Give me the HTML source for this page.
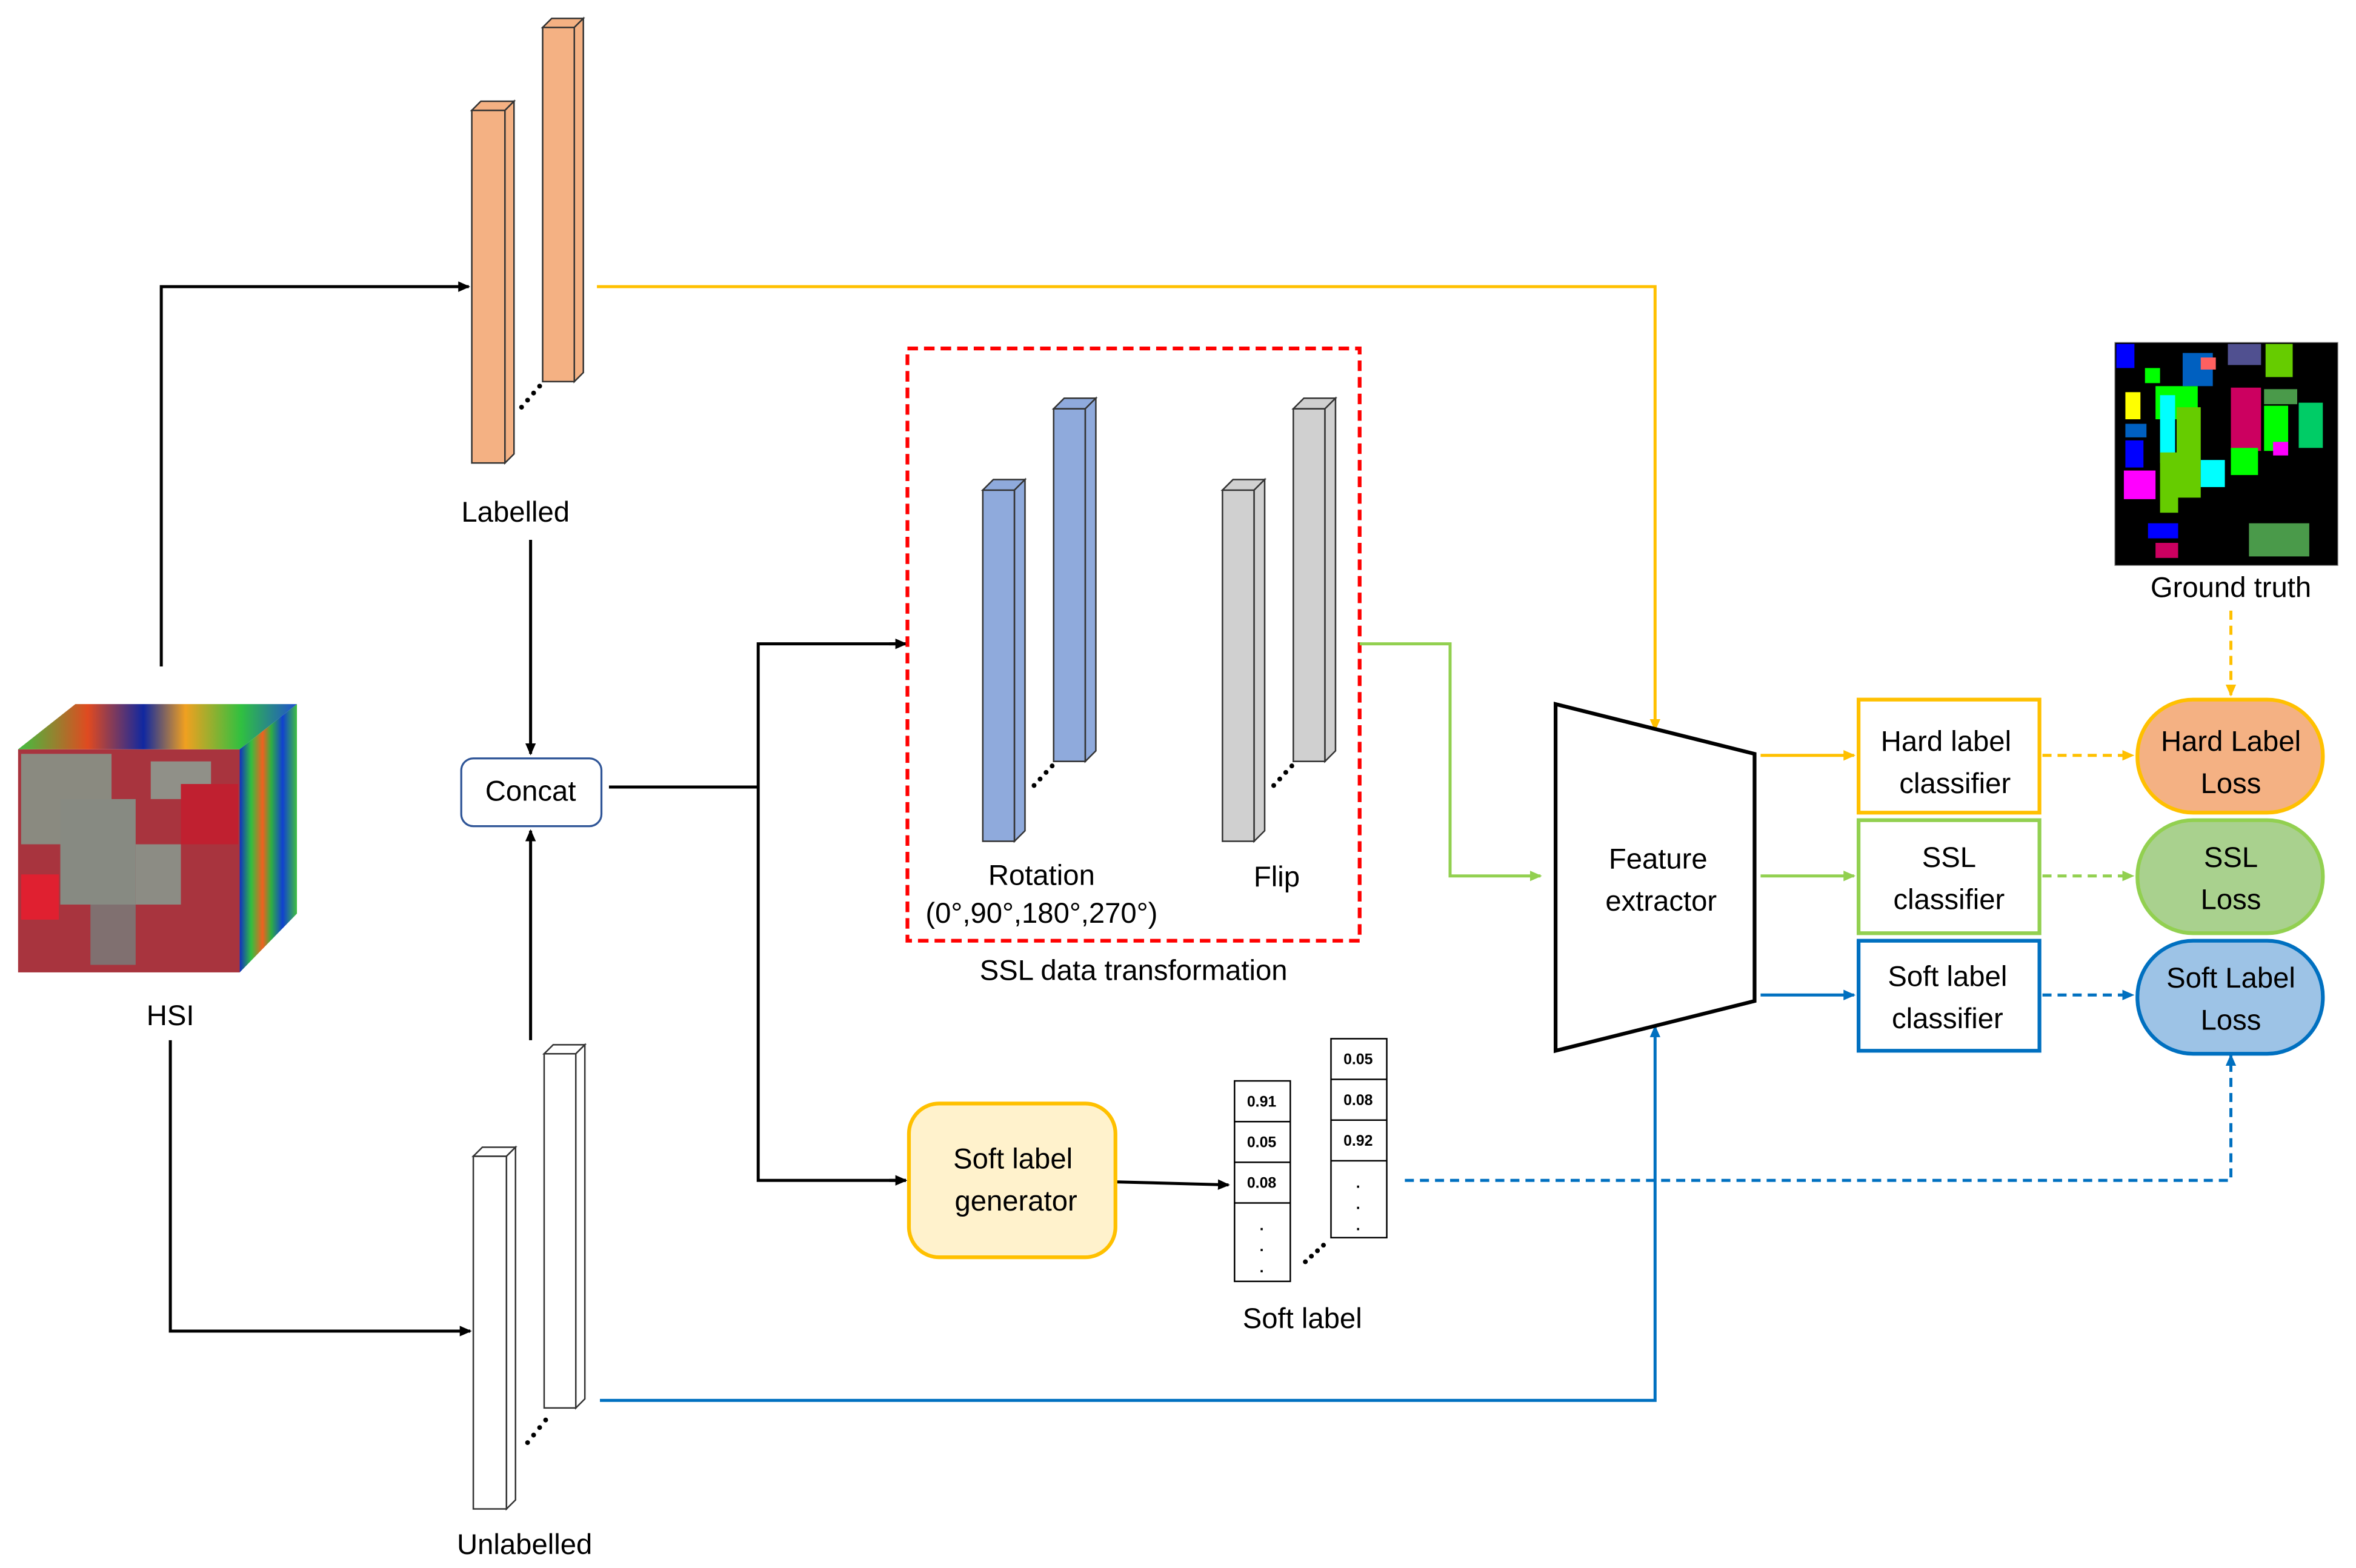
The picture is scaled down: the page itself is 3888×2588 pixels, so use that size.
<!DOCTYPE html>
<html><head><meta charset="utf-8"><style>
html,body{margin:0;padding:0;background:#fff;}
svg{display:block;}
text{font-family:"Liberation Sans",sans-serif;fill:#000;}
</style></head><body>
<svg width="3888" height="2588" viewBox="0 0 1563 1040" xmlns="http://www.w3.org/2000/svg">
<defs>
<marker id="ak" markerWidth="8" markerHeight="8" refX="7" refY="4" orient="auto" markerUnits="userSpaceOnUse"><path d="M0,0.5 L8,4 L0,7.5Z" fill="#000"/></marker>
<marker id="ao" markerWidth="8" markerHeight="8" refX="7" refY="4" orient="auto" markerUnits="userSpaceOnUse"><path d="M0,0.5 L8,4 L0,7.5Z" fill="#FFC000"/></marker>
<marker id="ag" markerWidth="8" markerHeight="8" refX="7" refY="4" orient="auto" markerUnits="userSpaceOnUse"><path d="M0,0.5 L8,4 L0,7.5Z" fill="#92D050"/></marker>
<marker id="ab" markerWidth="8" markerHeight="8" refX="7" refY="4" orient="auto" markerUnits="userSpaceOnUse"><path d="M0,0.5 L8,4 L0,7.5Z" fill="#0070C0"/></marker>
<linearGradient id="rf" x1="0" y1="0" x2="1" y2="0">
<stop offset="0" stop-color="#1030c0"/><stop offset="0.2" stop-color="#30c040"/><stop offset="0.4" stop-color="#f06020"/><stop offset="0.55" stop-color="#30b040"/><stop offset="0.75" stop-color="#1040d0"/><stop offset="1" stop-color="#40c040"/></linearGradient>
<linearGradient id="tf" x1="0" y1="0" x2="1" y2="0">
<stop offset="0" stop-color="#40c040"/><stop offset="0.25" stop-color="#e04a20"/><stop offset="0.45" stop-color="#1028a0"/><stop offset="0.6" stop-color="#f0a020"/><stop offset="0.8" stop-color="#30c040"/><stop offset="1" stop-color="#2050d0"/></linearGradient>
</defs>

<!-- HSI cube -->
<rect x="12" y="497" width="147" height="148" fill="#a8343e"/>
<rect x="14" y="500" width="60" height="60" fill="#8a8a80"/>
<rect x="40" y="530" width="50" height="70" fill="#878a82"/>
<rect x="90" y="560" width="30" height="40" fill="#8c8c84"/>
<rect x="100" y="505" width="40" height="25" fill="#909088"/>
<rect x="60" y="600" width="30" height="40" fill="#807070"/>
<rect x="120" y="520" width="38" height="40" fill="#c02030"/>
<rect x="14" y="580" width="25" height="30" fill="#e02030"/>
<polygon points="12,497 50,467 197,467 159,497" fill="url(#tf)"/>
<polygon points="159,497 197,467 197,606 159,645" fill="url(#rf)"/>
<text x="113" y="680" font-size="19" text-anchor="middle">HSI</text>

<!-- Labelled bars -->
<g stroke="#333" stroke-width="1" fill="#F4B183">
<rect x="313" y="73" width="22" height="234"/>
<polygon points="313,73 319,67 341,67 335,73"/><polygon points="335,73 341,67 341,301 335,307"/>
<rect x="360" y="18" width="21" height="235"/>
<polygon points="360,18 366,12 387,12 381,18"/><polygon points="381,18 387,12 387,247 381,253"/>
</g>
<g fill="#000">
<circle cx="346" cy="270" r="1.6"/><circle cx="350" cy="265.3" r="1.6"/><circle cx="354" cy="260.6" r="1.6"/><circle cx="358" cy="256" r="1.6"/>
</g>
<text x="342" y="346" font-size="19" text-anchor="middle">Labelled</text>

<!-- Unlabelled bars -->
<g stroke="#333" stroke-width="1" fill="#fff">
<rect x="314" y="767" width="22" height="234"/>
<polygon points="314,767 320,761 342,761 336,767"/><polygon points="336,767 342,761 342,995 336,1001"/>
<rect x="361" y="699" width="21" height="235"/>
<polygon points="361,699 367,693 388,693 382,699"/><polygon points="382,699 388,693 388,928 382,934"/>
</g>
<g fill="#000">
<circle cx="350" cy="957" r="1.6"/><circle cx="354" cy="952" r="1.6"/><circle cx="358" cy="947" r="1.6"/><circle cx="362" cy="942" r="1.6"/>
</g>
<text x="348" y="1031" font-size="19" text-anchor="middle">Unlabelled</text>

<!-- black connectors -->
<g stroke="#000" stroke-width="2" fill="none">
<polyline points="107,442 107,190 311,190" marker-end="url(#ak)"/>
<polyline points="113,690 113,883 312,883" marker-end="url(#ak)"/>
<line x1="352" y1="358" x2="352" y2="500" marker-end="url(#ak)"/>
<line x1="352" y1="690" x2="352" y2="551" marker-end="url(#ak)"/>
<line x1="404" y1="522" x2="503" y2="522"/>
<polyline points="602,427 503,427 503,783 601,783" />
<line x1="590" y1="427" x2="601" y2="427" marker-end="url(#ak)"/>
<line x1="590" y1="783" x2="601" y2="783" marker-end="url(#ak)"/>
<line x1="741" y1="784" x2="815" y2="786" marker-end="url(#ak)"/>
</g>

<rect x="306" y="503" width="93" height="45" rx="8" fill="#fff" stroke="#2F5597" stroke-width="1.3"/>
<text x="352" y="531" font-size="19" text-anchor="middle">Concat</text>

<!-- SSL transform -->
<rect x="602" y="231" width="300" height="393" fill="none" stroke="#FF0000" stroke-width="2.5" stroke-dasharray="7,4"/>
<g stroke="#333" stroke-width="1" fill="#8FAADC">
<rect x="652" y="325" width="21" height="233"/>
<polygon points="652,325 659,318 680,318 673,325"/><polygon points="673,325 680,318 680,551 673,558"/>
<rect x="699" y="271" width="21" height="234"/>
<polygon points="699,271 706,264 727,264 720,271"/><polygon points="720,271 727,264 727,498 720,505"/>
</g>
<g stroke="#333" stroke-width="1" fill="#D0D0D0">
<rect x="811" y="325" width="21" height="233"/>
<polygon points="811,325 818,318 839,318 832,325"/><polygon points="832,325 839,318 839,551 832,558"/>
<rect x="858" y="271" width="21" height="234"/>
<polygon points="858,271 865,264 886,264 879,271"/><polygon points="879,271 886,264 886,498 879,505"/>
</g>
<g fill="#000">
<circle cx="686" cy="521" r="1.6"/><circle cx="690" cy="516.7" r="1.6"/><circle cx="694" cy="512.3" r="1.6"/><circle cx="698" cy="508" r="1.6"/>
<circle cx="845" cy="521" r="1.6"/><circle cx="849" cy="516.7" r="1.6"/><circle cx="853" cy="512.3" r="1.6"/><circle cx="857" cy="508" r="1.6"/>
</g>
<text x="691" y="587" font-size="19" text-anchor="middle">Rotation</text>
<text x="691" y="612" font-size="19" text-anchor="middle">(0°,90°,180°,270°)</text>
<text x="847" y="588" font-size="19" text-anchor="middle">Flip</text>
<text x="752" y="650" font-size="19" text-anchor="middle">SSL data transformation</text>

<!-- colored connectors -->
<polyline points="902,427 962,427 962,581 1022,581" fill="none" stroke="#92D050" stroke-width="2" marker-end="url(#ag)"/>
<polyline points="396,190 1098,190 1098,484" fill="none" stroke="#FFC000" stroke-width="2" marker-end="url(#ao)"/>
<polyline points="398,929 1098,929 1098,681" fill="none" stroke="#0070C0" stroke-width="2" marker-end="url(#ab)"/>

<polygon points="1032,467 1164,500 1164,664 1032,697" fill="#fff" stroke="#000" stroke-width="2.5"/>
<text x="1100" y="576" font-size="19" text-anchor="middle">Feature</text>
<text x="1102" y="604" font-size="19" text-anchor="middle">extractor</text>

<line x1="1168" y1="501" x2="1230" y2="501" stroke="#FFC000" stroke-width="2" marker-end="url(#ao)"/>
<line x1="1168" y1="581" x2="1230" y2="581" stroke="#92D050" stroke-width="2" marker-end="url(#ag)"/>
<line x1="1168" y1="660" x2="1230" y2="660" stroke="#0070C0" stroke-width="2" marker-end="url(#ab)"/>

<rect x="1233" y="464" width="120" height="75" fill="#fff" stroke="#FFC000" stroke-width="2.5"/>
<text x="1291" y="498" font-size="19" text-anchor="middle">Hard label</text>
<text x="1297" y="526" font-size="19" text-anchor="middle">classifier</text>
<rect x="1233" y="544" width="120" height="75" fill="#fff" stroke="#92D050" stroke-width="2.5"/>
<text x="1293" y="575" font-size="19" text-anchor="middle">SSL</text>
<text x="1293" y="603" font-size="19" text-anchor="middle">classifier</text>
<rect x="1233" y="624" width="120" height="73" fill="#fff" stroke="#0070C0" stroke-width="2.5"/>
<text x="1292" y="654" font-size="19" text-anchor="middle">Soft label</text>
<text x="1292" y="682" font-size="19" text-anchor="middle">classifier</text>

<g stroke-width="2" stroke-dasharray="6,4">
<line x1="1355" y1="501" x2="1415" y2="501" stroke="#FFC000" marker-end="url(#ao)"/>
<line x1="1355" y1="581" x2="1415" y2="581" stroke="#92D050" marker-end="url(#ag)"/>
<line x1="1355" y1="660" x2="1415" y2="660" stroke="#0070C0" marker-end="url(#ab)"/>
<line x1="1480" y1="405" x2="1480" y2="461" stroke="#FFC000" marker-end="url(#ao)"/>
<polyline points="932,783 1480,783 1480,700" fill="none" stroke="#0070C0" marker-end="url(#ab)"/>
</g>

<rect x="1418" y="464" width="123" height="75" rx="37" fill="#F4B183" stroke="#FFC000" stroke-width="2.5"/>
<text x="1480" y="498" font-size="19" text-anchor="middle">Hard Label</text>
<text x="1480" y="526" font-size="19" text-anchor="middle">Loss</text>
<rect x="1418" y="544" width="123" height="75" rx="37" fill="#A9D18E" stroke="#92D050" stroke-width="2.5"/>
<text x="1480" y="575" font-size="19" text-anchor="middle">SSL</text>
<text x="1480" y="603" font-size="19" text-anchor="middle">Loss</text>
<rect x="1418" y="624" width="123" height="75" rx="37" fill="#9DC3E6" stroke="#0070C0" stroke-width="2.5"/>
<text x="1480" y="655" font-size="19" text-anchor="middle">Soft Label</text>
<text x="1480" y="683" font-size="19" text-anchor="middle">Loss</text>

<!-- Ground truth -->
<rect x="1403" y="227" width="148" height="148" fill="#000" stroke="#888" stroke-width="0.5"/>
<rect x="1404" y="228" width="12" height="16" fill="#0000ff"/>
<rect x="1410" y="260" width="10" height="18" fill="#ffff00"/>
<rect x="1410" y="281" width="14" height="9" fill="#0060c0"/>
<rect x="1410" y="292" width="12" height="18" fill="#0000ff"/>
<rect x="1409" y="312" width="21" height="19" fill="#ff00ff"/>
<rect x="1423" y="244" width="10" height="10" fill="#00ff00"/>
<rect x="1430" y="256" width="28" height="22" fill="#00ff00"/>
<rect x="1433" y="262" width="10" height="45" fill="#00ffff"/>
<rect x="1444" y="270" width="16" height="60" fill="#66cc00"/>
<rect x="1433" y="300" width="12" height="40" fill="#66cc00"/>
<rect x="1448" y="234" width="20" height="22" fill="#0060c0"/>
<rect x="1460" y="237" width="10" height="8" fill="#ff6060"/>
<rect x="1478" y="228" width="22" height="14" fill="#505090"/>
<rect x="1503" y="228" width="18" height="22" fill="#66cc00"/>
<rect x="1480" y="257" width="20" height="42" fill="#cc0060"/>
<rect x="1502" y="258" width="22" height="10" fill="#4a9a4a"/>
<rect x="1502" y="269" width="16" height="30" fill="#00ff00"/>
<rect x="1525" y="267" width="16" height="30" fill="#00cc66"/>
<rect x="1460" y="305" width="16" height="18" fill="#00ffff"/>
<rect x="1480" y="297" width="18" height="18" fill="#00ff00"/>
<rect x="1425" y="347" width="20" height="10" fill="#0000ff"/>
<rect x="1430" y="360" width="15" height="10" fill="#cc0060"/>
<rect x="1492" y="347" width="40" height="22" fill="#4a9a4a"/>
<rect x="1508" y="293" width="10" height="9" fill="#ff00ff"/>
<text x="1480" y="396" font-size="19" text-anchor="middle">Ground truth</text>

<!-- soft label generator -->
<rect x="603" y="732" width="137" height="102" rx="20" fill="#FFF2CC" stroke="#FFC000" stroke-width="2.5"/>
<text x="672" y="775" font-size="19" text-anchor="middle">Soft label</text>
<text x="674" y="803" font-size="19" text-anchor="middle">generator</text>

<!-- soft label columns -->
<g fill="#fff" stroke="#000" stroke-width="1">
<rect x="819" y="717" width="37" height="133"/>
<line x1="819" y1="744" x2="856" y2="744"/><line x1="819" y1="771" x2="856" y2="771"/><line x1="819" y1="798" x2="856" y2="798"/>
<rect x="883" y="689" width="37" height="132"/>
<line x1="883" y1="716" x2="920" y2="716"/><line x1="883" y1="743" x2="920" y2="743"/><line x1="883" y1="770" x2="920" y2="770"/>
</g>
<g font-size="10" font-weight="bold" text-anchor="middle">
<text x="837" y="734">0.91</text><text x="837" y="761">0.05</text><text x="837" y="788">0.08</text>
<text x="901" y="706">0.05</text><text x="901" y="733">0.08</text><text x="901" y="760">0.92</text>
<text x="837" y="816">.</text><text x="837" y="830">.</text><text x="837" y="844">.</text>
<text x="901" y="788">.</text><text x="901" y="802">.</text><text x="901" y="816">.</text>
</g>
<g fill="#000">
<circle cx="866" cy="837" r="1.6"/><circle cx="870" cy="833.3" r="1.6"/><circle cx="874" cy="829.7" r="1.6"/><circle cx="878" cy="826" r="1.6"/>
</g>
<text x="864" y="881" font-size="19" text-anchor="middle">Soft label</text>
</svg>
</body></html>
